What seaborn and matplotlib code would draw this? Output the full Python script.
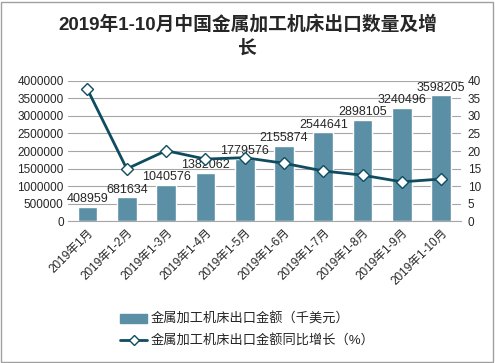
import numpy as np
import pandas as pd
import matplotlib
matplotlib.use("Agg")
import matplotlib.pyplot as plt
import seaborn as sns
from matplotlib.patches import Patch, Rectangle
from matplotlib.lines import Line2D
from matplotlib.ticker import FuncFormatter

# data
months = ["2019年1月", "2019年1-2月", "2019年1-3月", "2019年1-4月", "2019年1-5月",
          "2019年1-6月", "2019年1-7月", "2019年1-8月", "2019年1-9月", "2019年1-10月"]
export_value = [408959, 681634, 1040576, 1382062, 1779576,
                2155874, 2544641, 2898105, 3240496, 3598205]
growth = [37.6, 14.9, 20.1, 17.7, 18.1, 16.5, 14.3, 13.1, 11.2, 12.0]

bar_label = "金属加工机床出口金额（千美元）"
line_label = "金属加工机床出口金额同比增长（%）"

sns.set_style("white")
plt.rcParams["font.family"] = ["Liberation Sans", "Noto Sans CJK SC", "DejaVu Sans"]
plt.rcParams["axes.unicode_minus"] = False

bar_color = "#5b8fa6"
line_color = "#0f4c60"
text_color = "#262626"

df = pd.DataFrame({"month": months, "value": export_value, "growth": growth})

fig = plt.figure(figsize=(4.95, 3.63), dpi=100)
ax = fig.add_axes([0.137, 0.391, 0.794, 0.386])

sns.barplot(data=df, x="month", y="value", color=bar_color, width=0.5,
            saturation=1, ax=ax)
ax.set_ylim(0, 4000000)
ax.set_yticks(np.arange(0, 4000001, 500000))
ax.yaxis.set_major_formatter(FuncFormatter(lambda v, p: f"{int(v)}"))
ax.yaxis.grid(True, color="#a6a6a6", linewidth=0.8)
ax.set_axisbelow(True)
ax.set_xlabel("")
ax.set_ylabel("")
for s in ["top", "right", "left"]:
    ax.spines[s].set_visible(False)
ax.spines["bottom"].set_color("#a6a6a6")
ax.tick_params(axis="y", labelsize=8.5, length=0, pad=3, labelcolor=text_color)
ax.tick_params(axis="x", labelsize=8.5, length=0, pad=4, labelcolor=text_color)
for lbl in ax.get_xticklabels():
    lbl.set_rotation(45)
    lbl.set_ha("right")
    lbl.set_rotation_mode("anchor")

for i, v in enumerate(export_value):
    ax.text(i, v + 40000, str(v), ha="center", va="bottom", fontsize=9, color=text_color)

ax2 = ax.twinx()
sns.lineplot(x=np.arange(len(months)), y=growth, ax=ax2, color=line_color,
             linewidth=2, marker="D", markersize=6, markerfacecolor="white",
             markeredgecolor=line_color, markeredgewidth=1)
ax2.set_ylim(0, 40)
ax2.set_yticks(np.arange(0, 41, 5))
ax2.set_xlim(-0.5, len(months) - 0.5)
ax2.tick_params(axis="y", labelsize=8.5, length=0, pad=5, labelcolor=text_color)
for s in ["top", "right", "left", "bottom"]:
    ax2.spines[s].set_visible(False)

fig.text(0.5, 0.932, "2019年1-10月中国金属加工机床出口数量及增", ha="center", va="center",
         fontsize=13.5, fontweight="bold", color=text_color)
fig.text(0.5, 0.865, "长", ha="center", va="center",
         fontsize=13.5, fontweight="bold", color=text_color)

handles = [Patch(facecolor=bar_color, edgecolor=bar_color),
           Line2D([0], [0], color=line_color, linewidth=2, marker="D", markersize=5,
                  markerfacecolor="white", markeredgecolor=line_color)]
fig.legend(handles, [bar_label, line_label], loc="center", bbox_to_anchor=(0.5, 0.09),
           frameon=False, fontsize=9.5, handlelength=2, labelspacing=0.7,
           handletextpad=0.3, labelcolor=text_color)

fig.patches.append(Rectangle((0.003, 0.004), 0.992, 0.99, transform=fig.transFigure,
                             fill=False, edgecolor="#a0a0a0", linewidth=1))

fig.savefig("out.png", dpi=100)
